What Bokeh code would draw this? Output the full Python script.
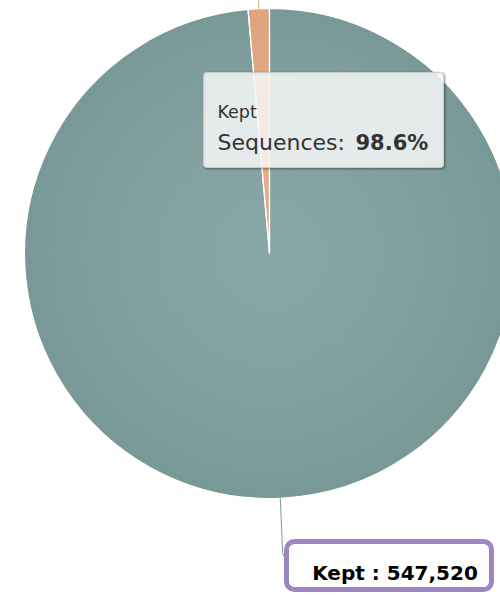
import numpy as np
from bokeh.plotting import figure
from bokeh.models import Range1d, BoxAnnotation, ColumnDataSource
from bokeh.core.properties import value
from bokeh.embed import file_html
from bokeh.resources import INLINE

# ---- data ----
names = ["Kept", "Removed"]
counts = [547520, 7774]
colors_outer = ["#799898", "#dfa37d"]
colors_inner = ["#89a7a6", "#e6ad89"]
tooltip_series = "Sequences"

# ---- geometry (reference pixel coordinates, y flipped to y-up) ----
W, H = 500, 595
def Y(y):
    return H - y

cx, cy = 269, Y(253)
R = 245

vals = np.array(counts, dtype=float)
frac = vals / vals.sum()
cum = np.concatenate([[0], np.cumsum(frac)])
# clockwise from top
a0 = np.deg2rad(90 - 360 * cum[:-1])
a1 = np.deg2rad(90 - 360 * cum[1:])

p = figure(width=W, height=H, x_range=Range1d(0, W), y_range=Range1d(0, H),
           output_backend="svg", toolbar_location=None, min_border=0,
           min_border_left=0, min_border_right=0, min_border_top=0, min_border_bottom=0)
p.axis.visible = False
p.grid.visible = False
p.outline_line_color = None
p.background_fill_color = "white"

def mix(c1, c2, t):
    c1 = [int(c1[i:i+2], 16) for i in (1, 3, 5)]
    c2 = [int(c2[i:i+2], 16) for i in (1, 3, 5)]
    c = [round(c1[j] + (c2[j] - c1[j]) * t) for j in range(3)]
    return "#%02x%02x%02x" % tuple(c)

# gradient rings
N = 40
xs, ys, rs, sa, ea, fc = [], [], [], [], [], []
for k in range(N):
    t = k / N
    for i in range(len(vals)):
        xs.append(cx); ys.append(cy)
        rs.append(R * (1 - t))
        sa.append(a1[i]); ea.append(a0[i])
        fc.append(mix(colors_outer[i], colors_inner[i], t ** 0.7))
src = ColumnDataSource(dict(x=xs, y=ys, r=rs, sa=sa, ea=ea, fc=fc))
p.wedge(x="x", y="y", radius="r", start_angle="sa", end_angle="ea", direction="anticlock",
        fill_color="fc", line_color=None, source=src)
# white slice borders
p.wedge(x=[cx] * len(vals), y=[cy] * len(vals), radius=R, start_angle=list(a1), end_angle=list(a0),
        direction="anticlock", fill_alpha=0, line_color="white", line_width=1.2)

# connector of the hidden slice (label off the top)
mid2 = (a0[1] + a1[1]) / 2
p.line([cx + R * np.cos(mid2), cx + R * np.cos(mid2)], [cy + R * np.sin(mid2), H + 5],
       line_color=colors_outer[1], line_width=1)

# data label for Kept
mid = (a0[0] + a1[0]) / 2
ex, ey = cx + R * np.cos(mid), cy + R * np.sin(mid)
mx, my = cx + 300 * np.cos(mid), cy + 300 * np.sin(mid)
bl, br, bt, bb = 286, 491, Y(541), Y(589)
p.line([ex, mx, bl], [ey, my, (bt + bb) / 2 + 3], line_color=colors_outer[0], line_width=1)
p.add_layout(BoxAnnotation(left=bl, right=br, top=bt, bottom=bb, fill_color="white", fill_alpha=1,
                           line_color="#9d86c1", line_alpha=1, line_width=5, border_radius=8,
                           level="annotation"))
p.text(x=[(bl + br) / 2 + 6], y=[Y(572)], text=[f"{names[0]} : {counts[0]:,}"],
       text_font=value("DejaVu Sans"), text_font_style="bold", text_font_size="20px",
       text_color="#000000", text_align="center", text_baseline="alphabetic", level="overlay")

# tooltip
tl, tr, tt, tb = 203, 443, Y(72), Y(167)
for w, a in [(5, 0.05), (3, 0.1), (1, 0.15)]:
    p.add_layout(BoxAnnotation(left=tl + 1, right=tr + 1, top=tt - 1, bottom=tb - 1, fill_alpha=0,
                               line_color="black", line_alpha=a, line_width=w, border_radius=3,
                               level="annotation"))
p.add_layout(BoxAnnotation(left=tl, right=tr, top=tt, bottom=tb, fill_color="#f7f7f7", fill_alpha=0.85,
                           line_color="#c3cfcf", line_alpha=1, line_width=1, border_radius=3,
                           level="annotation"))
pct = f"{frac[0] * 100:.1f}%"
p.text(x=[217], y=[Y(111)], text=[names[0]], text_font=value("DejaVu Sans"), text_font_size="17.5px",
       text_color="#333333", text_baseline="alphabetic", level="overlay")
p.text(x=[217], y=[Y(142)], text=[f"{tooltip_series}:"], text_font=value("DejaVu Sans"),
       text_font_size="22px", text_color="#333333", text_baseline="alphabetic", level="overlay")
p.text(x=[355], y=[Y(142)], text=[pct], text_font=value("DejaVu Sans"), text_font_style="bold",
       text_font_size="21px", text_color="#333333", text_baseline="alphabetic", level="overlay")

open("out.html", "w").write(file_html(p, INLINE))
